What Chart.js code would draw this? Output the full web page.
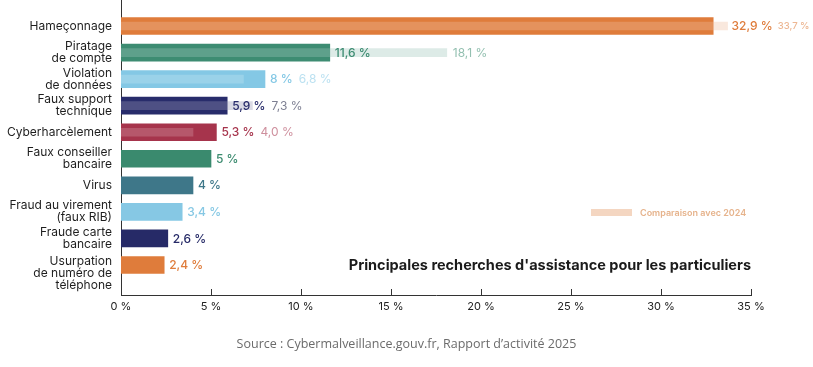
<!DOCTYPE html>
<html><head><meta charset="utf-8">
<script src="https://cdn.jsdelivr.net/npm/chart.js@4.4.0/dist/chart.umd.min.js"></script>
<style>
html,body{margin:0;padding:0;background:#fff;}
#wrap{position:relative;width:813px;height:367px;}
#source{position:absolute;left:0;width:813px;top:335px;text-align:center;font-family:"Open Sans",sans-serif;font-size:12.5px;color:#6b6b6b;}
</style></head>
<body>
<div id="wrap"><canvas id="c" width="813" height="367"></canvas>
<div id="source">Source : Cybermalveillance.gouv.fr, Rapport d’activité 2025</div></div>
<script>
// ---- data ----
const categories = [
  ["Hameçonnage"],
  ["Piratage", "de compte"],
  ["Violation", "de données"],
  ["Faux support", "technique"],
  ["Cyberharcèlement"],
  ["Faux conseiller", "bancaire"],
  ["Virus"],
  ["Fraud au virement", "(faux RIB)"],
  ["Fraude carte", "bancaire"],
  ["Usurpation", "de numéro de", "téléphone"]
];
const values2025 = [32.9, 11.6, 8, 5.9, 5.3, 5, 4, 3.4, 2.6, 2.4];
const values2024 = [33.7, 18.1, 6.8, 7.3, 4.0, null, null, null, null, null];
const labels2025 = ["32,9 %", "11,6 %", "8 %", "5,9 %", "5,3 %", "5 %", "4 %", "3,4 %", "2,6 %", "2,4 %"];
const labels2024 = ["33,7 %", "18,1 %", "6,8 %", "7,3 %", "4,0 %", null, null, null, null, null];
const xTicks = [0, 5, 10, 15, 20, 25, 30, 35];
const chartTitle = "Principales recherches d'assistance pour les particuliers";
const legendLabel = "Comparaison avec 2024";

// ---- styles ----
const baseColors = ['#DF7C3B','#3D8C72','#84C8E5','#282C6B','#A6344C','#3A8A6E','#3E7789','#86C8E4','#262A67','#DF7C3B'];
function hexRgb(h){return [parseInt(h.slice(1,3),16),parseInt(h.slice(3,5),16),parseInt(h.slice(5,7),16)];}
function tint(h,f,a){const c=hexRgb(h).map(v=>Math.round(v+(255-v)*f));return a==null?`rgb(${c.join(',')})`:`rgba(${c.join(',')},${a})`;}
const overlayColors = baseColors.map(c=>tint(c,0.5,0.35));
const label24Colors = baseColors.map((c,i)=>i===3?'#7d7f92':tint(c,0.45));
const FONT = "Inter";

const labelPlugin = {
  id:'vlabels',
  afterDatasetsDraw(chart){
    const ctx=chart.ctx, xs=chart.scales.x, ys=chart.scales.y;
    ctx.save();
    ctx.textBaseline='middle'; ctx.textAlign='left';
    values2025.forEach((v,i)=>{
      const y=ys.getPixelForValue(i);
      const x25=xs.getPixelForValue(v);
      const v24=values2024[i];
      const x24=v24!=null?xs.getPixelForValue(v24):null;
      let lx=x25+5;
      if(x24!=null && x24>x25 && x24-x25<20) lx=x24+4;
      ctx.font=`500 12px ${FONT}`;
      ctx.fillStyle=baseColors[i];
      ctx.fillText(labels2025[i],lx,y+0.5);
      const end25=lx+ctx.measureText(labels2025[i]).width;
      if(labels2024[i]){
        const l2=Math.max(end25,x24)+(i===0?5:6);
        ctx.font=`${i===0?'500 9.5px':'400 12px'} ${FONT}`;
        ctx.fillStyle=label24Colors[i];
        ctx.fillText(labels2024[i],l2,y+0.5);
      }
    });
    // x-axis inner tick marks
    ctx.strokeStyle='#333'; ctx.lineWidth=1;
    const b=chart.chartArea.bottom;
    xTicks.forEach(t=>{
      const x=Math.round(xs.getPixelForValue(t))+0.5;
      ctx.beginPath();ctx.moveTo(x,b-6);ctx.lineTo(x,b);ctx.stroke();
    });
    // title
    ctx.font=`700 14.5px ${FONT}`; ctx.fillStyle='#1b1b1b'; ctx.textAlign='right';
    ctx.fillText(chartTitle, chart.chartArea.right, ys.getPixelForValue(9)+1);
    // legend
    ctx.fillStyle='#F4D6C1';
    ctx.fillRect(591,209,41,7);
    ctx.font=`600 9px ${FONT}`; ctx.fillStyle='#E6B38C'; ctx.textAlign='left';
    ctx.fillText(legendLabel,640,213);
    ctx.restore();
  }
};

new Chart(document.getElementById('c'),{
  type:'bar',
  data:{
    datasets:[
      {label:'2024', data:values2024.map((v,i)=>({x:v,y:i})), backgroundColor:overlayColors, barThickness:8, grouped:false, order:0},
      {label:'2025', data:values2025.map((v,i)=>({x:v,y:i})), backgroundColor:baseColors, barThickness:17, grouped:false, order:1}
    ]
  },
  options:{
    indexAxis:'y', responsive:false, animation:false,
    layout:{padding:{left:0,right:62,top:0,bottom:52}},
    plugins:{legend:{display:false},tooltip:{enabled:false}},
    scales:{
      x:{type:'linear', min:0, max:35,
        afterBuildTicks(s){s.ticks=xTicks.map(v=>({value:v}));},
        afterFit(s){s.height=20;s.paddingLeft=0;s.paddingRight=0;},
        grid:{display:false, drawTicks:false},
        border:{display:true,color:'#333',width:1},
        ticks:{padding:5, maxRotation:0, color:'#222', font:{family:FONT,size:11}, callback:v=>v+' %'}},
      y:{type:'linear', reverse:true, min:-0.98, max:10.13, offset:false, bounds:'data',
        afterBuildTicks(s){s.ticks=categories.map((c,i)=>({value:i+(c.length>2?0.3:0)}));},
        afterFit(s){s.width=121;s.paddingTop=0;s.paddingBottom=0;},
        grid:{display:false, drawTicks:false, offset:false},
        border:{display:true,color:'#333',width:1},
        ticks:{padding:9, autoSkip:false, color:'#1e1e1e', font:{family:FONT,size:12,lineHeight:1.0}, callback:(v,idx)=>categories[idx]}}
    }
  },
  plugins:[labelPlugin]
});
</script>
</body></html>
